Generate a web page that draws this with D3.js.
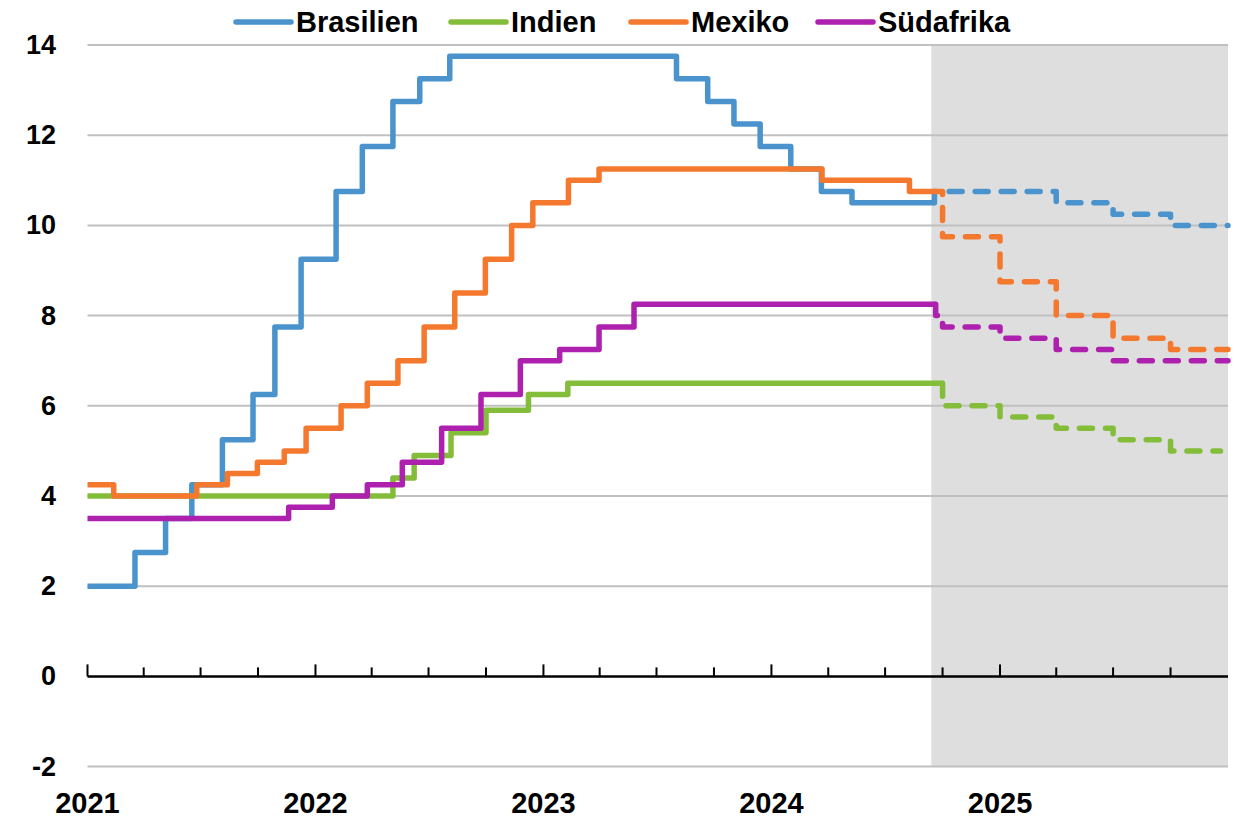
<!DOCTYPE html>
<html><head><meta charset="utf-8">
<script src="https://cdn.jsdelivr.net/npm/d3@7"></script>
<style>
html,body{margin:0;padding:0;background:#fff;}
svg{display:block;font-family:"Liberation Sans",Arial,sans-serif;}
</style></head>
<body><svg id="chart" width="1238" height="818"></svg>
<script>
// ---- Data (policy rates, %) ----
const categories = ["Brasilien", "Indien", "Mexiko", "Südafrika"];
const colors = ["#4a93cd", "#84bd3a", "#f4792f", "#ae21ae"];

const brasilienHist = [["2021-01-01",2.0],["2021-03-18",2.75],["2021-05-06",3.5],["2021-06-17",4.25],["2021-08-05",5.25],["2021-09-23",6.25],["2021-10-28",7.75],["2021-12-09",9.25],["2022-02-03",10.75],["2022-03-17",11.75],["2022-05-05",12.75],["2022-06-17",13.25],["2022-08-04",13.75],["2023-08-02",13.25],["2023-09-21",12.75],["2023-11-02",12.25],["2023-12-14",11.75],["2024-02-01",11.25],["2024-03-21",10.75],["2024-05-09",10.5],["2024-09-18",10.5]];
const brasilienForecast = [["2024-09-18",10.75],["2025-04-01",10.5],["2025-07-01",10.25],["2025-10-01",10.0],["2026-01-01",10.0]];

const indienHist = [["2021-01-01",4.0],["2022-05-05",4.4],["2022-06-08",4.9],["2022-08-06",5.4],["2022-10-01",5.9],["2022-12-08",6.25],["2023-02-09",6.5],["2024-10-01",6.5]];
const indienForecast = [["2024-10-01",6.0],["2025-01-01",5.75],["2025-04-01",5.5],["2025-07-01",5.25],["2025-10-01",5.0],["2025-12-20",5.0]];

const mexikoHist = [["2021-01-01",4.25],["2021-02-12",4.0],["2021-06-25",4.25],["2021-08-13",4.5],["2021-09-30",4.75],["2021-11-12",5.0],["2021-12-17",5.5],["2022-02-11",6.0],["2022-03-25",6.5],["2022-05-13",7.0],["2022-06-24",7.75],["2022-08-12",8.5],["2022-09-30",9.25],["2022-11-11",10.0],["2022-12-15",10.5],["2023-02-10",11.0],["2023-03-31",11.25],["2024-03-22",11.0],["2024-08-09",10.75],["2024-09-15",10.75]];
const mexikoForecast = [["2024-09-15",10.75],["2024-10-01",9.75],["2025-01-01",8.75],["2025-04-01",8.0],["2025-07-01",7.5],["2025-10-01",7.25],["2026-01-01",7.25]];

const suedafrikaHist = [["2021-01-01",3.5],["2021-11-19",3.75],["2022-01-28",4.0],["2022-03-25",4.25],["2022-05-20",4.75],["2022-07-22",5.5],["2022-09-23",6.25],["2022-11-25",7.0],["2023-01-27",7.25],["2023-03-31",7.75],["2023-05-26",8.25],["2024-09-20",8.25]];
const suedafrikaForecast = [["2024-09-20",8.0],["2024-10-01",7.75],["2025-01-01",7.5],["2025-04-01",7.25],["2025-07-01",7.0],["2025-10-01",7.0],["2026-01-01",7.0]];

const histSeries = [brasilienHist, indienHist, mexikoHist, suedafrikaHist];
const forecastSeries = [brasilienForecast, indienForecast, mexikoForecast, suedafrikaForecast];

const yTicks = [-2, 0, 2, 4, 6, 8, 10, 12, 14];
const yearLabels = ["2021", "2022", "2023", "2024", "2025"];
const forecastStart = "2024-09-13";
const xStart = "2021-01-01", xEnd = "2026-01-01";

// ---- Chart ----
(function () {
const parse = d3.timeParse("%Y-%m-%d");
const svg = d3.select("#chart");
const pl = 87.5, pr = 1228, pt = 45, pb = 766.6;

const x = d3.scaleTime().domain([parse(xStart), parse(xEnd)]).range([pl, pr]);
const y = d3.scaleLinear().domain([-2, 14]).range([pb, pt]);

// forecast shading
svg.append("rect")
  .attr("x", x(parse(forecastStart))).attr("y", pt)
  .attr("width", pr - x(parse(forecastStart))).attr("height", pb - pt)
  .attr("fill", "#dedede");

// gridlines
svg.append("g").selectAll("line").data(yTicks.filter(d => d !== 0)).join("line")
  .attr("x1", pl).attr("x2", pr)
  .attr("y1", d => y(d)).attr("y2", d => y(d))
  .attr("stroke", "#c0c0c0").attr("stroke-width", 2);

// y labels
svg.append("g").selectAll("text").data(yTicks).join("text")
  .attr("x", 56).attr("y", d => y(d))
  .attr("text-anchor", "end").attr("dominant-baseline", "central")
  .attr("font-size", 27).attr("font-weight", "bold").attr("fill", "#000")
  .text(d => d);

// x axis with quarterly ticks
const quarters = d3.timeMonth.every(3).range(parse(xStart), parse(xEnd));
const axisG = svg.append("g");
axisG.append("line").attr("x1", pl).attr("x2", pr)
  .attr("y1", y(0)).attr("y2", y(0)).attr("stroke", "#000").attr("stroke-width", 2.5);
axisG.selectAll("line.tick").data(quarters).join("line").attr("class", "tick")
  .attr("x1", d => x(d)).attr("x2", d => x(d))
  .attr("y1", y(0)).attr("y2", d => y(0) - (d.getMonth() === 0 ? 12 : 9))
  .attr("stroke", "#000").attr("stroke-width", 2);

svg.append("g").selectAll("text").data(yearLabels).join("text")
  .attr("x", d => x(parse(d + "-01-01"))).attr("y", 813)
  .attr("text-anchor", "middle")
  .attr("font-size", 29).attr("font-weight", "bold").attr("fill", "#000")
  .text(d => d);

// lines
const line = d3.line()
  .x(d => x(parse(d[0]))).y(d => y(d[1]))
  .curve(d3.curveStepAfter);

histSeries.forEach((s, i) => {
  svg.append("path").attr("d", line(s))
    .attr("fill", "none").attr("stroke", colors[i]).attr("stroke-width", 5.5)
    .attr("stroke-linejoin", "round");
});
forecastSeries.forEach((s, i) => {
  const h = histSeries[i];
  const startPt = h[h.length - 1];
  const pts = [startPt].concat(s);
  svg.append("path").attr("d", line(pts))
    .attr("fill", "none").attr("stroke", colors[i]).attr("stroke-width", 5.5)
    .attr("stroke-dasharray", "13,13").attr("stroke-linecap", "round")
    .attr("stroke-linejoin", "round");
});

// legend
const legendX = [236, 451, 631, 818];
const lg = svg.append("g");
categories.forEach((c, i) => {
  lg.append("line").attr("x1", legendX[i]).attr("x2", legendX[i] + 55)
    .attr("y1", 22).attr("y2", 22)
    .attr("stroke", colors[i]).attr("stroke-width", 5.5).attr("stroke-linecap", "round");
  lg.append("text").attr("x", legendX[i] + 60).attr("y", 22)
    .attr("dominant-baseline", "central")
    .attr("font-size", 29).attr("font-weight", "bold").attr("fill", "#000")
    .text(c);
});
})();
</script></body></html>
